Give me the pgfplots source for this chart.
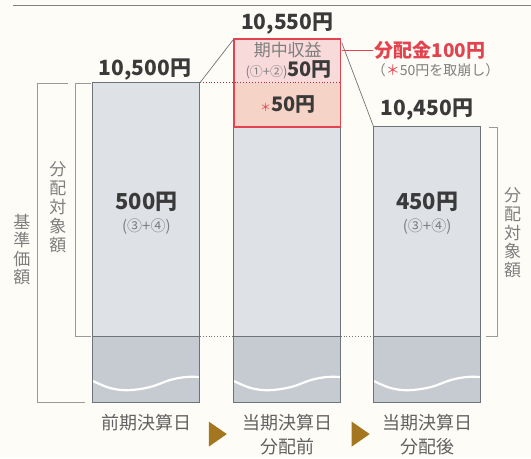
\documentclass[border=0pt]{standalone}
\usepackage{pgfplots}
\pgfplotsset{compat=1.18}
\usepackage{fontspec}
\setmainfont{Noto Sans CJK JP}
\definecolor{bg}{HTML}{FDFCF7}
\definecolor{barfill}{HTML}{DEE2E7}
\definecolor{barlow}{HTML}{C6CBD1}
\definecolor{barline}{HTML}{6E7379}
\definecolor{redc}{HTML}{E2434F}
\definecolor{pinkup}{HTML}{F9DADA}
\definecolor{pinklow}{HTML}{F6D3C7}
\definecolor{darktxt}{HTML}{3A3A3A}
\definecolor{graytxt}{HTML}{7E7E7E}
\definecolor{linegray}{HTML}{9A9A9A}
\definecolor{arrowc}{HTML}{A57620}
\begin{document}
\begin{tikzpicture}
\begin{axis}[
  scale only axis, width=531pt, height=457pt,
  xmin=0, xmax=531, ymin=10075, ymax=10594.32,
  hide axis, clip=false,
]
% background
\addplot[fill=bg, draw=none] coordinates {(0,10075) (531,10075) (531,10594.32) (0,10594.32)} -- cycle;
% top rule
\addplot[draw=black!50, line width=1pt] coordinates {(13,10588.6) (531,10588.6)};
% bars: upper (light) part
\addplot[fill=barfill, draw=none] coordinates {(93,10211.4) (200,10211.4) (200,10500) (93,10500)} -- cycle;
\addplot[fill=barfill, draw=none] coordinates {(234,10211.4) (341,10211.4) (341,10450) (234,10450)} -- cycle;
\addplot[fill=barfill, draw=none] coordinates {(374,10211.4) (481,10211.4) (481,10450) (374,10450)} -- cycle;
% bars: lower (base) part
\addplot[fill=barlow, draw=none] coordinates {(93,10136.4) (200,10136.4) (200,10211.4) (93,10211.4)} -- cycle;
\addplot[fill=barlow, draw=none] coordinates {(234,10136.4) (341,10136.4) (341,10211.4) (234,10211.4)} -- cycle;
\addplot[fill=barlow, draw=none] coordinates {(374,10136.4) (481,10136.4) (481,10211.4) (374,10211.4)} -- cycle;
% waves
\addplot[white, line width=2.2pt, smooth, tension=0.6] coordinates {(93,10161) (110,10153) (128,10150.5) (150,10154) (170,10162) (186,10165.5) (200,10165.5)};
\addplot[white, line width=2.2pt, smooth, tension=0.6] coordinates {(234,10161) (251,10153) (269,10150.5) (291,10154) (311,10162) (327,10165.5) (341,10165.5)};
\addplot[white, line width=2.2pt, smooth, tension=0.6] coordinates {(374,10161) (391,10153) (409,10150.5) (431,10154) (451,10162) (467,10165.5) (481,10165.5)};
% red box (期中収益)
\addplot[fill=pinkup, draw=none] coordinates {(234,10500) (341,10500) (341,10550) (234,10550)} -- cycle;
\addplot[fill=pinklow, draw=none] coordinates {(234,10450) (341,10450) (341,10500) (234,10500)} -- cycle;
% bar outlines
\addplot[draw=barline, line width=0.9pt] coordinates {(93,10136.4) (200,10136.4) (200,10500) (93,10500)} -- cycle;
\addplot[draw=barline, line width=0.9pt] coordinates {(234,10136.4) (341,10136.4) (341,10450) (234,10450)} -- cycle;
\addplot[draw=barline, line width=0.9pt] coordinates {(374,10136.4) (481,10136.4) (481,10450) (374,10450)} -- cycle;
\addplot[draw=barline, line width=0.9pt] coordinates {(93,10211.4) (200,10211.4)};
\addplot[draw=barline, line width=0.9pt] coordinates {(234,10211.4) (341,10211.4)};
\addplot[draw=barline, line width=0.9pt] coordinates {(374,10211.4) (481,10211.4)};
% dotted links at base line
\addplot[draw=barline, dotted, line width=0.9pt] coordinates {(200,10211.4) (234,10211.4)};
\addplot[draw=barline, dotted, line width=0.9pt] coordinates {(341,10211.4) (374,10211.4)};
% dotted line at 10,500
\addplot[draw=redc!70!black, dotted, line width=0.9pt] coordinates {(200,10500) (341,10500)};
% red box border
\addplot[draw=redc, line width=1.6pt] coordinates {(234,10450) (341,10450) (341,10550) (234,10550)} -- cycle;
% diagonal connectors
\addplot[draw=black!55, line width=0.7pt] coordinates {(200,10500) (234,10550)};
\addplot[draw=black!55, line width=0.7pt] coordinates {(342,10546) (374,10450)};
% line to 分配金
\addplot[draw=redc, line width=0.9pt] coordinates {(342,10537.5) (373,10537.5)};
% brackets left
\addplot[draw=linegray, line width=0.7pt] coordinates {(68,10500) (37,10500) (37,10136.4) (85,10136.4)};
\addplot[draw=linegray, line width=0.7pt] coordinates {(91,10500) (75,10500) (75,10211.4) (91,10211.4)};
% bracket right
\addplot[draw=linegray, line width=0.7pt] coordinates {(489,10450) (498,10450) (498,10211.4) (486,10211.4)};
% arrows
\addplot[fill=arrowc, draw=none] coordinates {(209,10114.8) (227,10100.6) (209,10086.3)} -- cycle;
\addplot[fill=arrowc, draw=none] coordinates {(352,10114.8) (370,10100.6) (352,10086.3)} -- cycle;

% texts
\node[text=darktxt, font=\fontsize{21}{21}\selectfont\bfseries] at (axis cs:287.5,10567) {10,550円};
\node[text=darktxt, font=\fontsize{21}{21}\selectfont\bfseries] at (axis cs:145,10514.8) {10,500円};
\node[text=darktxt, font=\fontsize{21}{21}\selectfont\bfseries] at (axis cs:427.5,10469.3) {10,450円};
\node[text=graytxt, font=\fontsize{17}{17}\selectfont] at (axis cs:288,10537.5) {期中収益};
\node[inner sep=0pt] at (axis cs:289,10514.8) {\textcolor{graytxt}{\fontsize{13}{13}\selectfont(①+②)}\textcolor{darktxt}{\fontsize{20}{20}\selectfont\bfseries 50円}};
\node[inner sep=0pt] at (axis cs:288,10475) {\textcolor{redc}{\fontsize{11}{11}\selectfont ＊}\textcolor{darktxt}{\fontsize{20}{20}\selectfont\bfseries 50円}};
\node[anchor=west, text=redc, font=\fontsize{19}{19}\selectfont\bfseries, inner sep=0pt] at (axis cs:375,10537.5) {分配金100円};
\node[anchor=west, inner sep=0pt, text=graytxt, font=\fontsize{14}{14}\selectfont] at (axis cs:372,10514.8) {（\textcolor{redc}{＊}50円を取崩し）};
\node[text=darktxt, font=\fontsize{22}{22}\selectfont\bfseries] at (axis cs:146.5,10364.8) {500円};
\node[text=graytxt, font=\fontsize{15}{15}\selectfont] at (axis cs:146.5,10336.4) {(③+④)};
\node[text=darktxt, font=\fontsize{22}{22}\selectfont\bfseries] at (axis cs:427.5,10364.8) {450円};
\node[text=graytxt, font=\fontsize{15}{15}\selectfont] at (axis cs:427.5,10336.4) {(③+④)};
% vertical labels
\node[text=graytxt, align=center, font=\fontsize{17}{18.5}\selectfont] at (axis cs:22,10310.2) {基\\準\\価\\額};
\node[text=graytxt, align=center, font=\fontsize{17}{19}\selectfont] at (axis cs:58,10359.1) {分\\配\\対\\象\\額};
\node[text=graytxt, align=center, font=\fontsize{17}{18.6}\selectfont] at (axis cs:513,10329.6) {分\\配\\対\\象\\額};
% bottom labels
\node[text=black!62, font=\fontsize{18}{18}\selectfont] at (axis cs:146.5,10113.6) {前期決算日};
\node[text=black!62, font=\fontsize{18}{18}\selectfont] at (axis cs:287.5,10113.6) {当期決算日};
\node[text=black!62, font=\fontsize{18}{18}\selectfont] at (axis cs:287.5,10086.6) {分配前};
\node[text=black!62, font=\fontsize{18}{18}\selectfont] at (axis cs:427.5,10113.6) {当期決算日};
\node[text=black!62, font=\fontsize{18}{18}\selectfont] at (axis cs:427.5,10086.6) {分配後};
\end{axis}
\end{tikzpicture}
\end{document}
